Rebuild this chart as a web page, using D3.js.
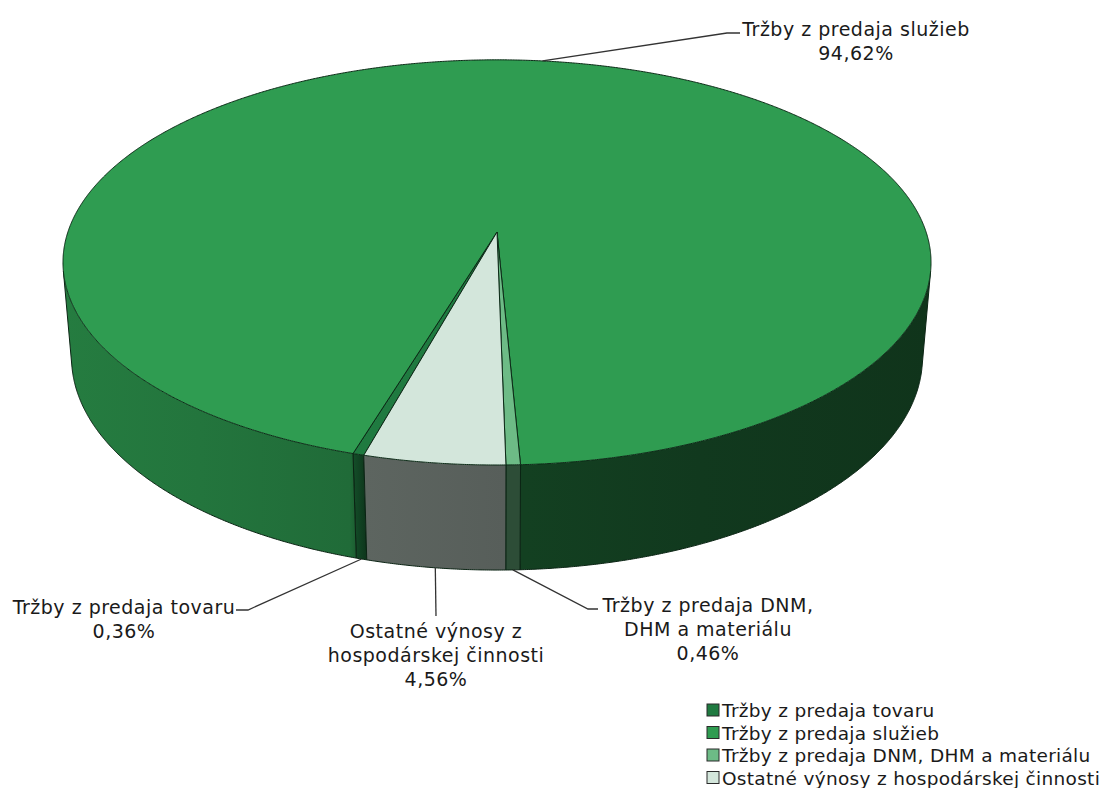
<!DOCTYPE html>
<html>
<head>
<meta charset="utf-8">
<script src="https://cdn.jsdelivr.net/npm/d3@7"></script>
<style>
	body { margin: 0; background: #fff; }
	text { font-family: 'DejaVu Sans', sans-serif; fill: #1a1a1a; }
	.callout { font-size: 19px; letter-spacing: 0.5px; }
	.legend-text { font-size: 18.5px; letter-spacing: 0.3px; }
</style>
</head>
<body>
<div id="chart"></div>
<script>
// Data
const categories = [
	'Tržby z predaja tovaru',
	'Tržby z predaja služieb',
	'Tržby z predaja DNM, DHM a materiálu',
	'Ostatné výnosy z hospodárskej činnosti',
];
const shares = [0.36, 94.62, 0.46, 4.56];
const calloutLines = [
	['Tržby z predaja tovaru'],
	['Tržby z predaja služieb'],
	['Tržby z predaja DNM,', 'DHM a materiálu'],
	['Ostatné výnosy z', 'hospodárskej činnosti'],
];
const topColors = ['#1f7a40', '#2f9c51', '#6dbb86', '#d3e6db'];

const width = 1100;
const height = 788;

const svg = d3
	.select('#chart')
	.append('svg')
	.attr('width', width)
	.attr('height', height);

const defs = svg.append('defs');

// Simple perspective camera looking down on a unit disc
const cam = { x0: 497, y0: 232, f: 2536, dist: 5.91, tilt: Math.asin(0.4615), depth: 0.252 };
function project(a, z) {
	const u = Math.sin(a);
	const v = Math.cos(a);
	const s = Math.sin(cam.tilt);
	const c = Math.cos(cam.tilt);
	const hh = z * cam.depth;
	const zc = cam.dist + hh * s + v * c;
	const yc = v * s - hh * c;
	return [cam.x0 + (cam.f * u) / zc, cam.y0 - (cam.f * yc) / zc];
}

const startAngle = (195.4 * Math.PI) / 180;
const pie = d3
	.pie()
	.sort(null)
	.startAngle(startAngle)
	.endAngle(startAngle + 2 * Math.PI);
const arcs = pie(shares);

const step = Math.PI / 720;
function arcPoints(a0, a1, z) {
	const n = Math.max(2, Math.ceil((a1 - a0) / step));
	return d3.range(n + 1).map((i) => project(a0 + ((a1 - a0) * i) / n, z));
}
const line = d3.line();

// Side shading: lit from the left, darker towards the right
const shadeStops = [
	[62, 0.65], [200, 0.8], [350, 1.05], [366, 2.3],
	[505, 2.5], [525, 2.5], [700, 2.8], [935, 3.1],
];
arcs.forEach((d, i) => {
	const g = defs
		.append('linearGradient')
		.attr('id', 'side' + i)
		.attr('gradientUnits', 'userSpaceOnUse')
		.attr('x1', 60)
		.attr('x2', 935)
		.attr('y1', 0)
		.attr('y2', 0);
	shadeStops.forEach(([x, k]) => {
		g.append('stop')
			.attr('offset', (x - 60) / 875)
			.attr('stop-color', d3.color(topColors[i]).darker(k));
	});
});

// Visible (front facing) runs of the side wall for each slice
function frontRuns(d) {
	const n = Math.max(2, Math.ceil((d.endAngle - d.startAngle) / step));
	const runs = [];
	let cur = null;
	for (let k = 0; k < n; k++) {
		const a = d.startAngle + ((d.endAngle - d.startAngle) * k) / n;
		const b = d.startAngle + ((d.endAngle - d.startAngle) * (k + 1)) / n;
		const q = [project(a, 0), project(b, 0), project(b, 1), project(a, 1)];
		if (d3.polygonArea(q) > 0) {
			if (!cur) {
				cur = [a, b];
				runs.push(cur);
			} else cur[1] = b;
		} else cur = null;
	}
	return runs;
}

const sides = svg.append('g');
arcs.forEach((d, i) => {
	frontRuns(d).forEach(([a0, a1]) => {
		const topPts = arcPoints(a0, a1, 0);
		const botPts = arcPoints(a0, a1, 1).reverse();
		sides
			.append('path')
			.attr('d', line(topPts.concat(botPts)) + 'Z')
			.attr('fill', `url(#side${i})`);
		sides
			.append('path')
			.attr('d', line(arcPoints(a0, a1, 1)))
			.attr('fill', 'none')
			.attr('stroke', '#0b2414')
			.attr('stroke-width', 1);
		[a0, a1].forEach((a) => {
			sides
				.append('path')
				.attr('d', line([project(a, 0), project(a, 1)]))
				.attr('stroke', '#0b2414')
				.attr('stroke-width', 1);
		});
	});
});

// Top faces
const center = [cam.x0, cam.y0];
svg.append('g')
	.selectAll('path')
	.data(arcs)
	.enter()
	.append('path')
	.attr('d', (d) => line([center].concat(arcPoints(d.startAngle, d.endAngle, 0))) + 'Z')
	.attr('fill', (d, i) => topColors[i])
	.attr('stroke', '#0b2a16')
	.attr('stroke-width', 1)
	.attr('stroke-linejoin', 'round');

// Callout labels
const pct = d3.formatLocale({ decimal: ',', thousands: ' ', grouping: [3], currency: ['', ' €'] }).format('.2f');
const callouts = [
	{ x: 124, y: 614, z: 1, elbow: [[248, 610], [236, 610]] },
	{ x: 856, y: 36, z: 0, elbow: [[727, 33], [740, 33]] },
	{ x: 708, y: 612, z: 1, elbow: [[588, 609], [598, 609]] },
	{ x: 436, y: 638, z: 1, elbow: [[436, 616]] },
];
const lineH = 24;
arcs.forEach((d, i) => {
	const c = callouts[i];
	const mid = (d.startAngle + d.endAngle) / 2;
	const p = project(mid, c.z);
	svg.append('path')
		.attr('d', line([p].concat(c.elbow)))
		.attr('fill', 'none')
		.attr('stroke', '#333')
		.attr('stroke-width', 1.3);
	const t = svg.append('text').attr('class', 'callout').attr('text-anchor', 'middle');
	calloutLines[i].concat([pct(shares[i]) + '%']).forEach((s, j) => {
		t.append('tspan').attr('x', c.x).attr('y', c.y + j * lineH).text(s);
	});
});

// Legend
const legend = svg.append('g').attr('transform', 'translate(707,704)');
categories.forEach((name, i) => {
	const row = legend.append('g').attr('transform', `translate(0,${i * 22.5})`);
	row.append('rect')
		.attr('width', 12)
		.attr('height', 12)
		.attr('fill', topColors[i])
		.attr('stroke', '#2a2a2a')
		.attr('stroke-width', 1);
	row.append('text').attr('class', 'legend-text').attr('x', 15).attr('y', 13).text(name);
});
</script>
</body>
</html>
